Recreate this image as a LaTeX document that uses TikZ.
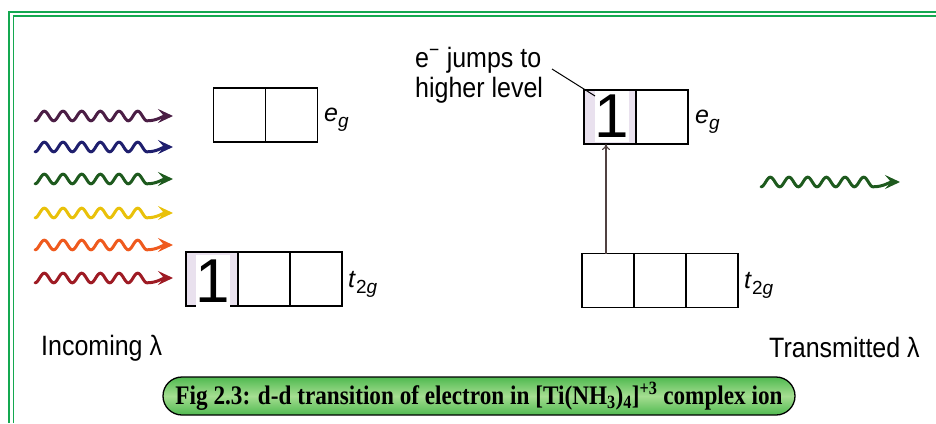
\documentclass[tikz,border=0pt]{standalone}
\usepackage{fontspec}
\setmainfont{Liberation Sans}
\newfontfamily\capfont{Liberation Serif}
\usetikzlibrary{arrows.meta}
\definecolor{frame}{RGB}{20,168,80}
\definecolor{wpurple}{RGB}{75,30,69}
\definecolor{wnavy}{RGB}{31,31,110}
\definecolor{wgreen}{RGB}{30,90,30}
\definecolor{wyellow}{RGB}{233,193,10}
\definecolor{worange}{RGB}{239,90,30}
\definecolor{wred}{RGB}{158,27,36}
\definecolor{lav}{RGB}{233,225,238}
\definecolor{capgreen}{RGB}{80,185,80}
\definecolor{caplight}{RGB}{165,222,145}
\newcommand{\levlab}[2]{\textit{#1}\raisebox{-6pt}{\fontsize{19}{19}\selectfont #2}}
\begin{document}
\begin{tikzpicture}[x=1pt,y=-1pt,
  cell/.style={draw=black,line width=1.3pt,minimum width=52pt,minimum height=54pt,inner sep=0pt,outer sep=0pt},
  onebox/.style={fill=white,inner sep=0pt,minimum width=31pt,minimum height=53pt,font=\fontsize{62}{62}\selectfont},
  lvl/.style={inner sep=0pt,anchor=base west,font=\fontsize{25}{28}\selectfont},
  lbl/.style={inner sep=0pt,anchor=base west,font=\fontsize{25}{30}\selectfont},
  wavy/.style={line width=3pt,line cap=round,line join=round,-{Stealth[length=15pt,width=14pt,inset=6pt]}},
  frameline/.style={draw=frame,line width=1.6pt}]
\useasboundingbox (0,0) rectangle (936,423);
% frame
\draw[frameline] (9,423) -- (9,11.7) -- (936,11.7);
\draw[frameline] (13.3,423) -- (13.3,15.9) -- (936,15.9);
% incoming waves
\foreach \yy/\cc [count=\i] in {116/wpurple,147/wnavy,179/wgreen,213/wyellow,245/worange,278/wred}{
  \coordinate (ws\i) at (35,\yy);
  \coordinate (wt\i) at (173,\yy);
  \draw[wavy,draw=\cc] plot[domain=0:112,samples=150] ({35+\x},{\yy+4.8*cos(\x/18.67*360)}) to[out=0,in=180] (wt\i);
}
% transmitted wave
\coordinate (ts) at (761,182);
\coordinate (tt) at (900,182);
\draw[wavy,draw=wgreen] plot[domain=0:112,samples=150] ({761+\x},{182+4.8*cos(\x/18.67*360)}) to[out=0,in=180] (tt);
% left eg
\node[cell] (le1) at (239.5,115) {};
\node[cell] (le2) at (291.5,115) {};
\node[lvl] (leg) at (324,121) {\levlab{e}{\textit{g}}};
% left t2g
\node[cell,fill=lav] (lt1) at (212,279) {};
\node[cell] (lt2) at (264,279) {};
\node[cell] (lt3) at (316,279) {};
\node[onebox] (lone) at (213,281) {1};
\node[lvl] (ltg) at (348,287) {\levlab{t}{2\textit{g}}};
% right eg
\node[cell,fill=lav] (re1) at (610,117) {};
\node[cell] (re2) at (662,117) {};
\node[onebox,minimum height=51pt] (rone) at (612,116) {1};
\node[lvl] (reg) at (695,123) {\levlab{e}{\textit{g}}};
% right t2g
\node[cell] (rt1) at (608,280.5) {};
\node[cell] (rt2) at (660,280.5) {};
\node[cell] (rt3) at (712,280.5) {};
\node[lvl] (rtg) at (744,288) {\levlab{t}{2\textit{g}}};
% transition arrow
\draw[line width=1.1pt,draw={rgb,255:red,80;green,65;blue,65},-{To[length=6pt,width=8pt]}] ([xshift=-2pt]rt1.north) -- ([xshift=-2pt]rt1.north |- re1.south);
% annotation
\node[lbl] (jmp) at (415,67) {\scalebox{1}[1.12]{e\textsuperscript{−} jumps to}};
\node[lbl] (hl) at (415,97) {\scalebox{1}[1.12]{higher level}};
\coordinate (ldA) at (552,69);
\coordinate (ldB) at (595,96);
\draw[line width=1pt] (ldA) -- (ldB);
% bottom labels
\node[lbl] (inc) at (41,355) {\scalebox{1}[1.12]{Incoming λ}};
\node[lbl] (trn) at (769,357) {\scalebox{1}[1.12]{Transmitted λ}};
% caption
\node[draw=black,line width=1.3pt,rounded corners=19pt,minimum width=632pt,minimum height=38pt,
  top color=capgreen,bottom color=capgreen,middle color=caplight,inner sep=0pt] (cap) at (479,396)
  {\capfont\bfseries\fontsize{25}{28}\selectfont\resizebox*{607pt}{28pt}{Fig 2.3: d-d transition of electron in [Ti(NH\textsubscript{3})\textsubscript{4}]\textsuperscript{+3} complex ion}};
\end{tikzpicture}
\end{document}
